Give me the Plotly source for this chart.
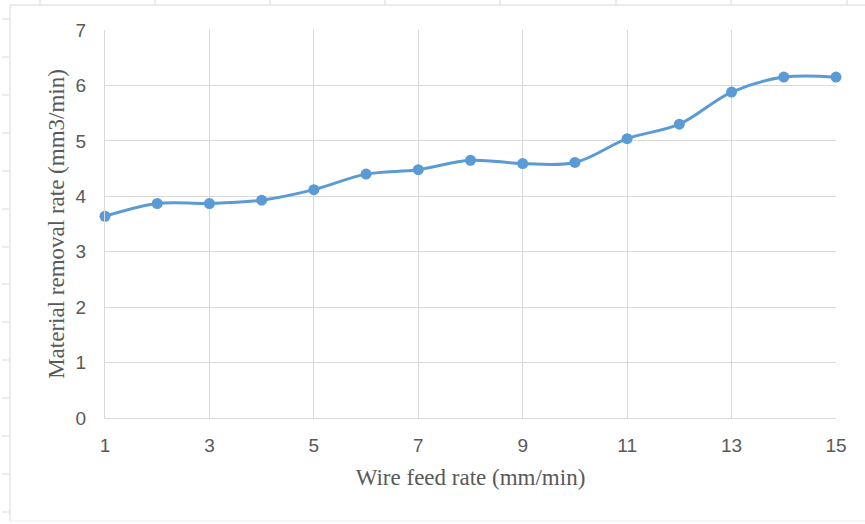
import plotly.graph_objects as go

# Wire feed rate (mm/min) and measured material removal rate (mm3/min)
feed_rate = [1, 2, 3, 4, 5, 6, 7, 8, 9, 10, 11, 12, 13, 14, 15]
removal_rate = [3.64, 3.87, 3.87, 3.93, 4.12, 4.40, 4.48, 4.65, 4.59, 4.61,
                5.04, 5.30, 5.88, 6.15, 6.15]
x_ticks = [1, 3, 5, 7, 9, 11, 13, 15]
y_ticks = [0, 1, 2, 3, 4, 5, 6, 7]

W, H = 865, 524
L, R, T, B = 105, 29, 30, 106
PW, PH = W - L - R, H - T - B


def px(x):
    return (x - L) / PW


def py(y):
    return (H - B - y) / PH


GRID = "#d9d9d9"
TEXT = "#595959"
BLUE = "#5b9bd5"

fig = go.Figure(
    go.Scatter(
        x=feed_rate,
        y=removal_rate,
        mode="lines+markers",
        line=dict(color=BLUE, width=3, shape="spline", smoothing=1),
        marker=dict(color=BLUE, size=11),
        cliponaxis=False,
        showlegend=False,
    )
)

# chart-area frame and the worksheet cell lines around it
shapes = [
    dict(type="line", xref="paper", yref="paper", x0=px(10), x1=px(870), y0=py(5), y1=py(5),
         line=dict(color=GRID, width=1)),
    dict(type="line", xref="paper", yref="paper", x0=px(10), x1=px(10), y0=py(5), y1=py(521),
         line=dict(color=GRID, width=1)),
    dict(type="line", xref="paper", yref="paper", x0=px(10), x1=px(870), y0=py(521), y1=py(521),
         line=dict(color="#ececec", width=1)),
]
for cx in [40, 155, 270, 385, 500, 616, 731, 847]:
    shapes.append(dict(type="line", xref="paper", yref="paper", x0=px(cx), x1=px(cx),
                       y0=py(0), y1=py(5), line=dict(color=GRID, width=1)))
for ry in [19, 57, 95, 133, 171, 209, 247, 284, 322, 360, 398, 436, 474, 512]:
    shapes.append(dict(type="line", xref="paper", yref="paper", x0=px(2), x1=px(9),
                       y0=py(ry), y1=py(ry), line=dict(color=GRID, width=1)))

tick_font = dict(family="Liberation Sans Narrow, Liberation Sans, Arial", size=19, color=TEXT)
title_font = dict(family="Liberation Serif, Times New Roman, serif", size=23, color=TEXT)

fig.update_layout(
    width=W,
    height=H,
    margin=dict(l=L, r=R, t=T, b=B, autoexpand=False),
    paper_bgcolor="white",
    plot_bgcolor="white",
    shapes=shapes,
    xaxis=dict(
        range=[1, 15],
        tickmode="array",
        tickvals=x_ticks,
        ticktext=[str(v) for v in x_ticks],
        showgrid=True,
        gridcolor=GRID,
        gridwidth=1,
        zeroline=False,
        showline=True,
        linecolor=GRID,
        ticks="",
        ticklabelstandoff=10,
        tickfont=tick_font,
        title=dict(text="Wire feed rate (mm/min)", font=title_font, standoff=14),
    ),
    yaxis=dict(
        range=[0, 7],
        tickmode="array",
        tickvals=y_ticks,
        ticktext=[str(v) for v in y_ticks],
        showgrid=True,
        gridcolor=GRID,
        gridwidth=1,
        zeroline=False,
        showline=True,
        linecolor=GRID,
        ticks="",
        ticklabelstandoff=14,
        tickfont=tick_font,
        title=dict(text="Material removal rate (mm3/min)", font=title_font, standoff=4),
    ),
)

fig.write_html("out.html")
